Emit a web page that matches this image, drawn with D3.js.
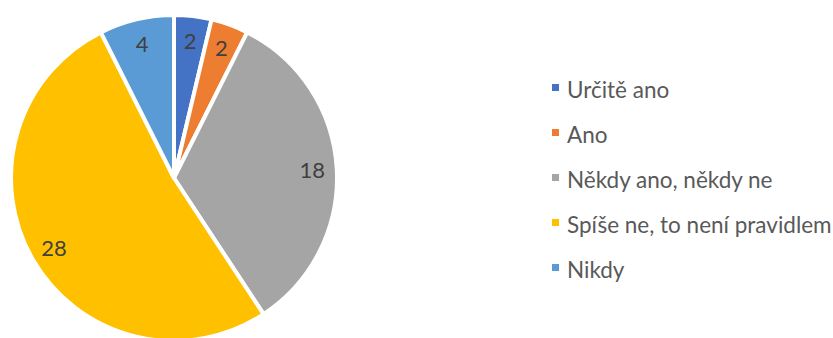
<!DOCTYPE html>
<html>
<head>
<meta charset="utf-8">
<script src="https://cdn.jsdelivr.net/npm/d3@7"></script>
<style>
  html, body { margin: 0; padding: 0; background: #fff; }
  svg { display: block; }
</style>
</head>
<body>
<svg id="chart" width="833" height="338"></svg>
<script>
// Answer categories and counts
const categories = ["Určitě ano", "Ano", "Někdy ano, někdy ne", "Spíše ne, to není pravidlem", "Nikdy"];
const values = [2, 2, 18, 28, 4];
const colors = ["#4472C4", "#ED7D31", "#A5A5A5", "#FFC000", "#5B9BD5"];

const svg = d3.select("#chart");
const cx = 174, cy = 178, radius = 163;

const data = categories.map((c, i) => ({ category: c, value: values[i], color: colors[i] }));

const pie = d3.pie().value(d => d.value).sort(null);
const arcs = pie(data);

const arc = d3.arc().innerRadius(0).outerRadius(radius);
const labelArc = d3.arc().innerRadius(radius * 0.85).outerRadius(radius * 0.85);

const g = svg.append("g").attr("transform", `translate(${cx},${cy})`);

g.selectAll("path.slice")
  .data(arcs)
  .join("path")
  .attr("class", "slice")
  .attr("d", arc)
  .attr("fill", d => d.data.color)
  .attr("stroke", "#fff")
  .attr("stroke-width", 4)
  .attr("stroke-linejoin", "round");

g.selectAll("text.value")
  .data(arcs)
  .join("text")
  .attr("class", "value")
  .attr("transform", d => `translate(${labelArc.centroid(d)})`)
  .attr("text-anchor", "middle")
  .attr("dominant-baseline", "central")
  .attr("font-family", "Lato, 'Open Sans', sans-serif")
  .attr("font-size", 22)
  .attr("fill", "#404040")
  .text(d => d.data.value);

// Legend
const legend = svg.append("g").attr("transform", "translate(552,0)");
const rowY = d3.scalePoint().domain(categories).range([89, 269]);

const rows = legend.selectAll("g.row")
  .data(data)
  .join("g")
  .attr("class", "row")
  .attr("transform", d => `translate(0,${rowY(d.category)})`);

rows.append("rect")
  .attr("x", 0)
  .attr("y", -5)
  .attr("width", 7)
  .attr("height", 7)
  .attr("fill", d => d.color);

rows.append("text")
  .attr("x", 15)
  .attr("y", 0)
  .attr("dominant-baseline", "central")
  .attr("font-family", "Lato, 'Open Sans', sans-serif")
  .attr("font-size", 22.5)
  .attr("fill", "#595959")
  .text(d => d.category);
</script>
</body>
</html>
